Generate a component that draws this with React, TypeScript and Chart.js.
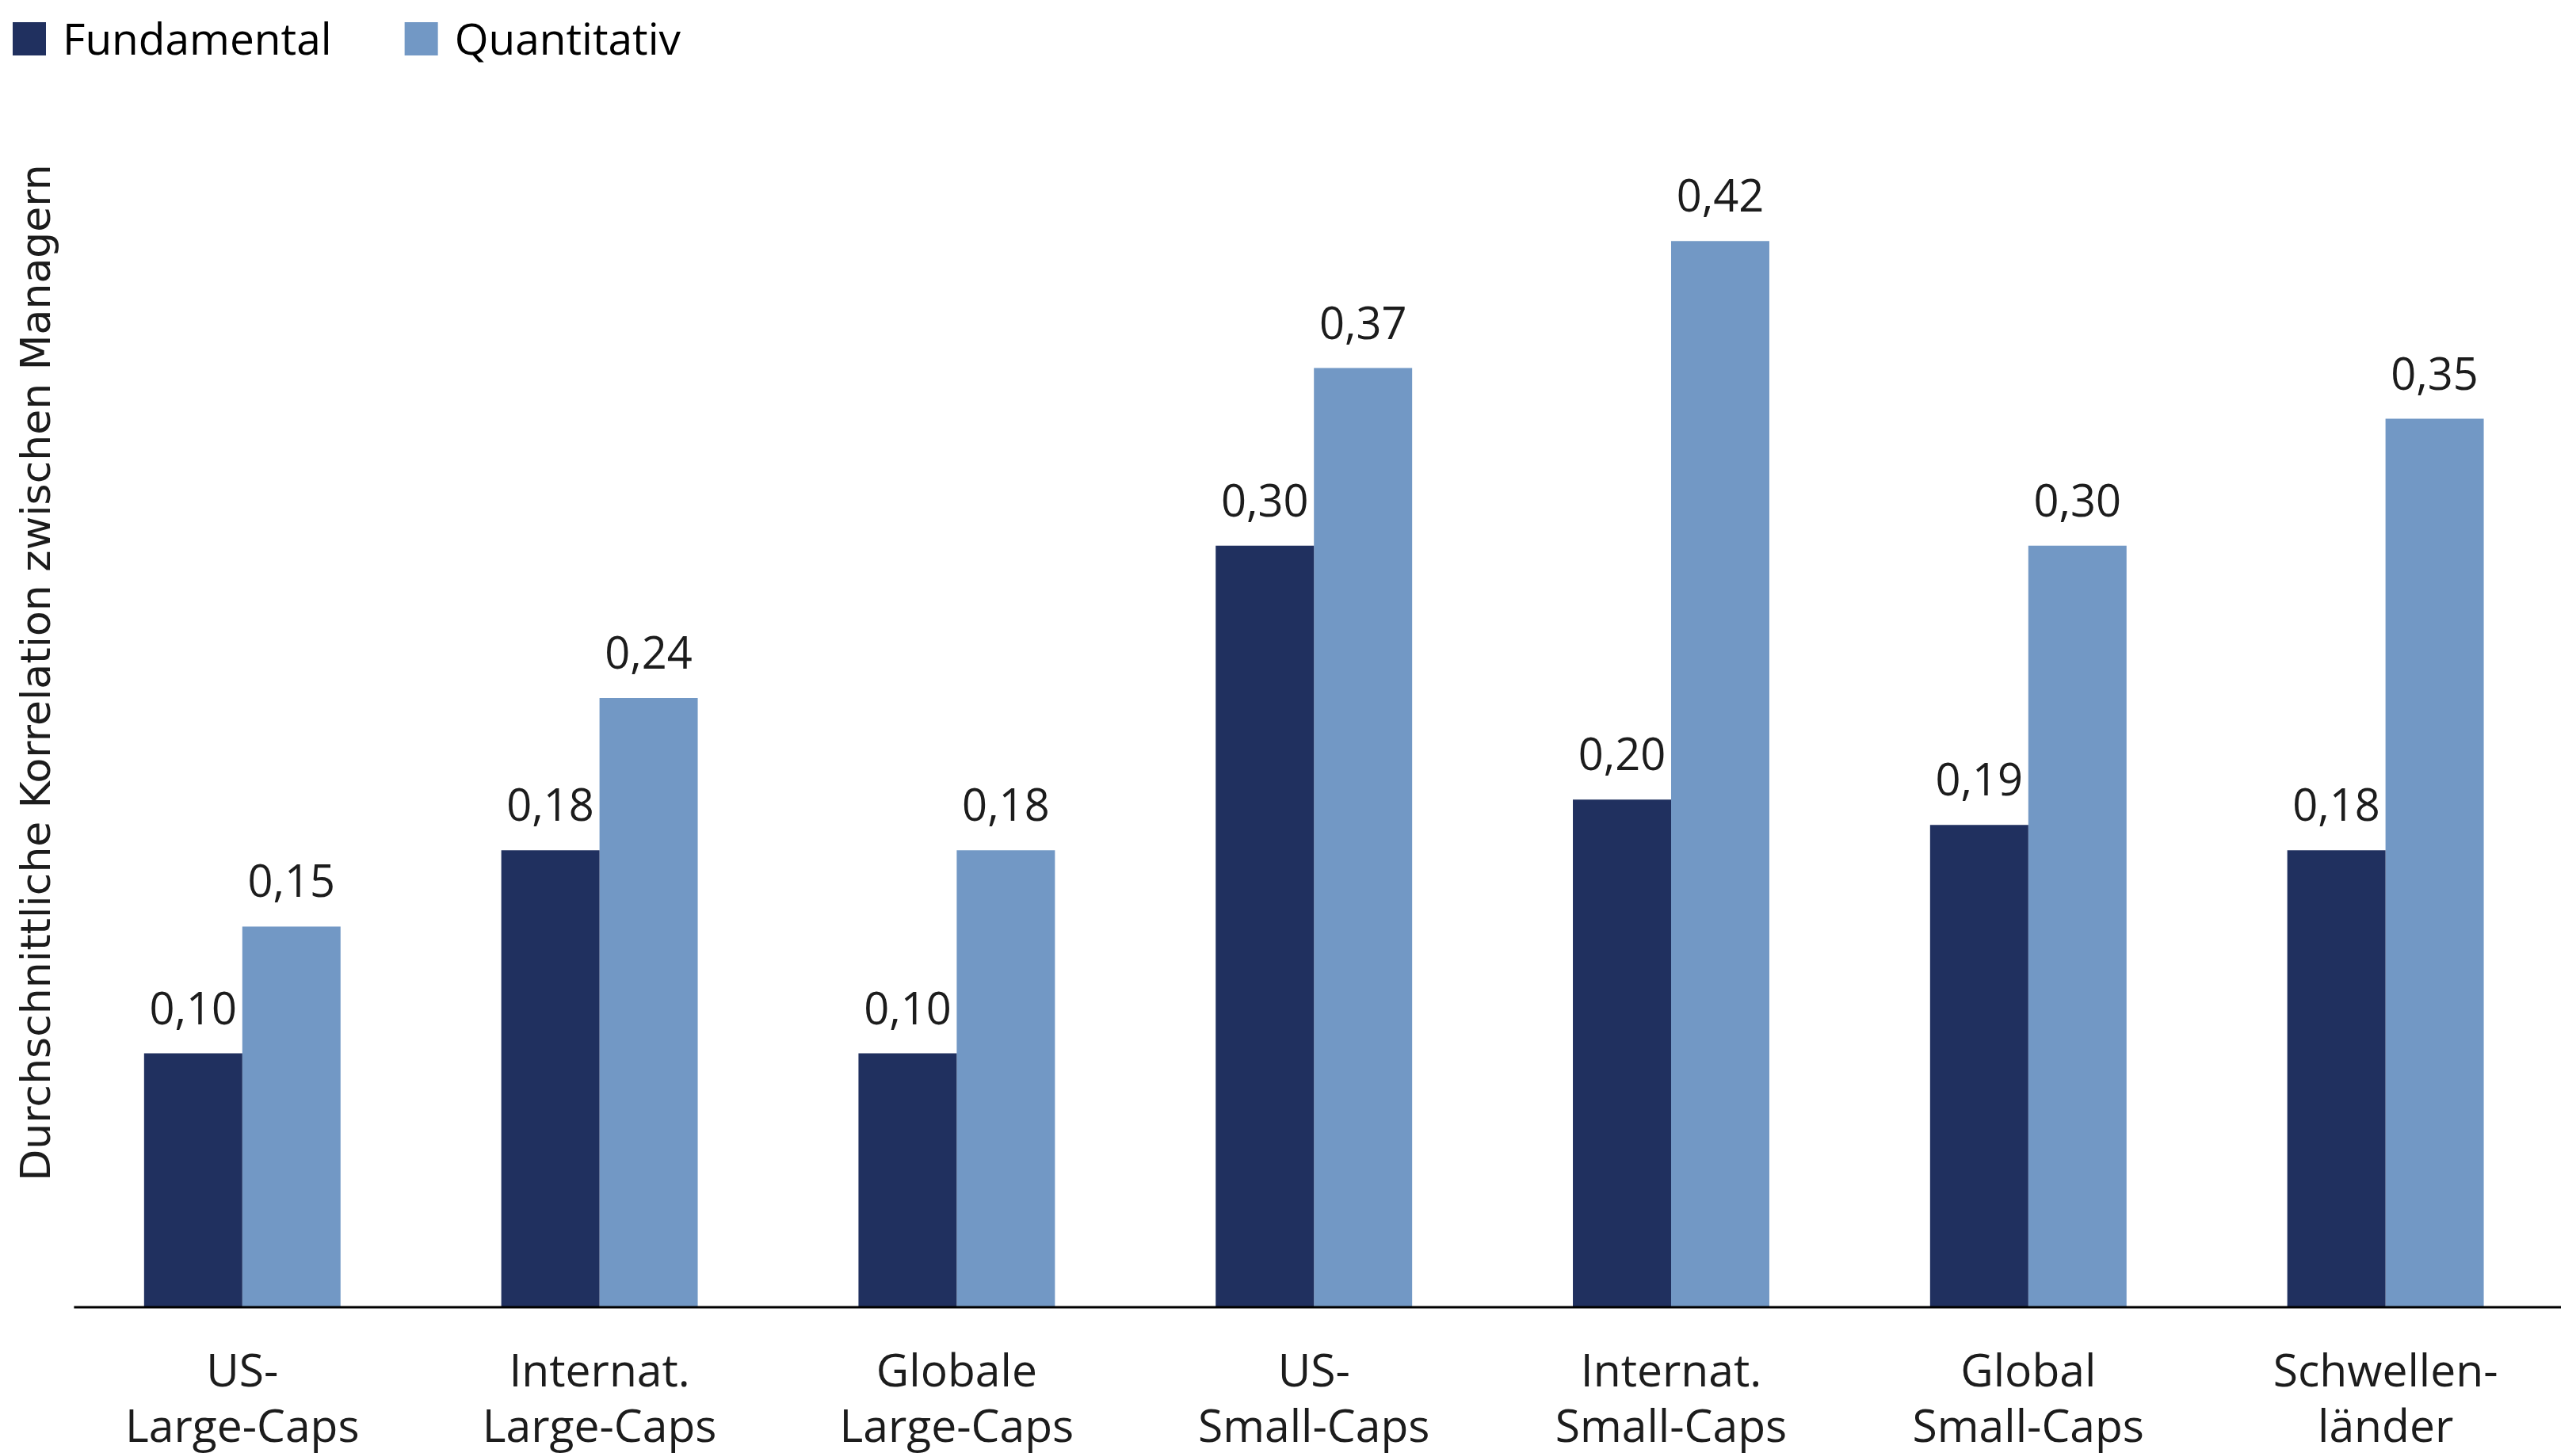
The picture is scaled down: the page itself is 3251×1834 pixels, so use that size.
import { Chart, registerables, type ChartOptions, type Plugin } from "chart.js";
import { useEffect, useRef } from "react";

Chart.register(...registerables);

const categories: string[][] = [
  ["US-", "Large-Caps"],
  ["Internat.", "Large-Caps"],
  ["Globale", "Large-Caps"],
  ["US-", "Small-Caps"],
  ["Internat.", "Small-Caps"],
  ["Global", "Small-Caps"],
  ["Schwellen-", "länder"],
];

const fundamental = [0.1, 0.18, 0.1, 0.3, 0.2, 0.19, 0.18];
const quantitativ = [0.15, 0.24, 0.18, 0.37, 0.42, 0.3, 0.35];

const seriesNames = ["Fundamental", "Quantitativ"];

const yTitle = "Durchschnittliche Korrelation zwischen Managern";

const DARK = "#20305f";
const LIGHT = "#7298c5";
const TEXT = "#1c1c1c";
const SANS = "'Open Sans', 'Noto Sans', sans-serif";

const formatValue = (v: number) => v.toFixed(2).replace(".", ",");

// value labels above every bar
const valueLabels: Plugin<"bar"> = {
  id: "valueLabels",
  afterDatasetsDraw(chart) {
    const { ctx } = chart;
    ctx.save();
    ctx.font = `56px ${SANS}`;
    ctx.fillStyle = TEXT;
    ctx.textAlign = "center";
    ctx.textBaseline = "alphabetic";
    chart.data.datasets.forEach((ds, i) => {
      const meta = chart.getDatasetMeta(i);
      meta.data.forEach((bar, j) => {
        const v = ds.data[j] as number;
        ctx.fillText(formatValue(v), bar.x, bar.y - 37);
      });
    });
    ctx.restore();
  },
};

// baseline at zero, a little inset from the plot edges like the original
const baseline: Plugin<"bar"> = {
  id: "baseline",
  afterDatasetsDraw(chart) {
    const { ctx, chartArea } = chart;
    const y = chart.scales.y.getPixelForValue(0);
    ctx.save();
    ctx.strokeStyle = "#000000";
    ctx.lineWidth = 3;
    ctx.beginPath();
    ctx.moveTo(chartArea.left + 13, y);
    ctx.lineTo(chartArea.right - 4, y);
    ctx.stroke();
    ctx.restore();
  },
};

// legend drawn in the top left corner, squares + names
const topLegend: Plugin<"bar"> = {
  id: "topLegend",
  afterDraw(chart) {
    const { ctx } = chart;
    ctx.save();
    ctx.font = `55px ${SANS}`;
    ctx.textBaseline = "alphabetic";
    ctx.textAlign = "left";
    let x = 16;
    chart.data.datasets.forEach((ds) => {
      ctx.fillStyle = ds.backgroundColor as string;
      ctx.fillRect(x, 28, 42, 42);
      ctx.fillStyle = "#000000";
      const label = ds.label ?? "";
      const textX = x + 42 + 21;
      ctx.fillText(label, textX, 69);
      x = textX + ctx.measureText(label).width + 92;
    });
    ctx.restore();
  },
};

const options: ChartOptions<"bar"> = {
  responsive: true,
  maintainAspectRatio: false,
  animation: false,
  layout: {
    padding: { top: 48, right: 15, bottom: 0, left: 0 },
  },
  plugins: {
    legend: { display: false },
    tooltip: { enabled: false },
  },
  scales: {
    x: {
      grid: { display: false, drawTicks: false },
      border: { display: false },
      ticks: {
        color: TEXT,
        padding: 49,
        maxRotation: 0,
        autoSkip: false,
        font: { family: SANS, size: 57, lineHeight: 70 / 57 },
      },
      // chart.js reserves the tick padding twice; keep the axis band tight
      afterFit(scale) {
        scale.height = 184;
      },
    },
    y: {
      min: 0,
      max: 0.5,
      grid: { display: false, drawTicks: false },
      border: { display: false },
      ticks: { display: false },
      title: {
        display: true,
        text: yTitle,
        color: TEXT,
        padding: { top: 18, bottom: 0 },
        font: { family: "'DejaVu Sans', Verdana, sans-serif", size: 52 },
      },
    },
  },
};

export default function App() {
  const canvasRef = useRef<HTMLCanvasElement>(null);

  useEffect(() => {
    if (!canvasRef.current) {
      return;
    }

    const chart = new Chart(canvasRef.current, {
      type: "bar",
      data: {
        labels: categories,
        datasets: [
          {
            label: seriesNames[0],
            data: fundamental,
            backgroundColor: DARK,
            categoryPercentage: 0.55,
            barPercentage: 1,
          },
          {
            label: seriesNames[1],
            data: quantitativ,
            backgroundColor: LIGHT,
            categoryPercentage: 0.55,
            barPercentage: 1,
          },
        ],
      },
      options,
      plugins: [valueLabels, baseline, topLegend],
    });

    return () => {
      chart.destroy();
    };
  }, []);

  return (
    <div
      style={{
        position: "fixed",
        left: 0,
        top: 0,
        width: "3251px",
        height: "1834px",
        background: "#ffffff",
      }}
    >
      <canvas ref={canvasRef} />
    </div>
  );
}
